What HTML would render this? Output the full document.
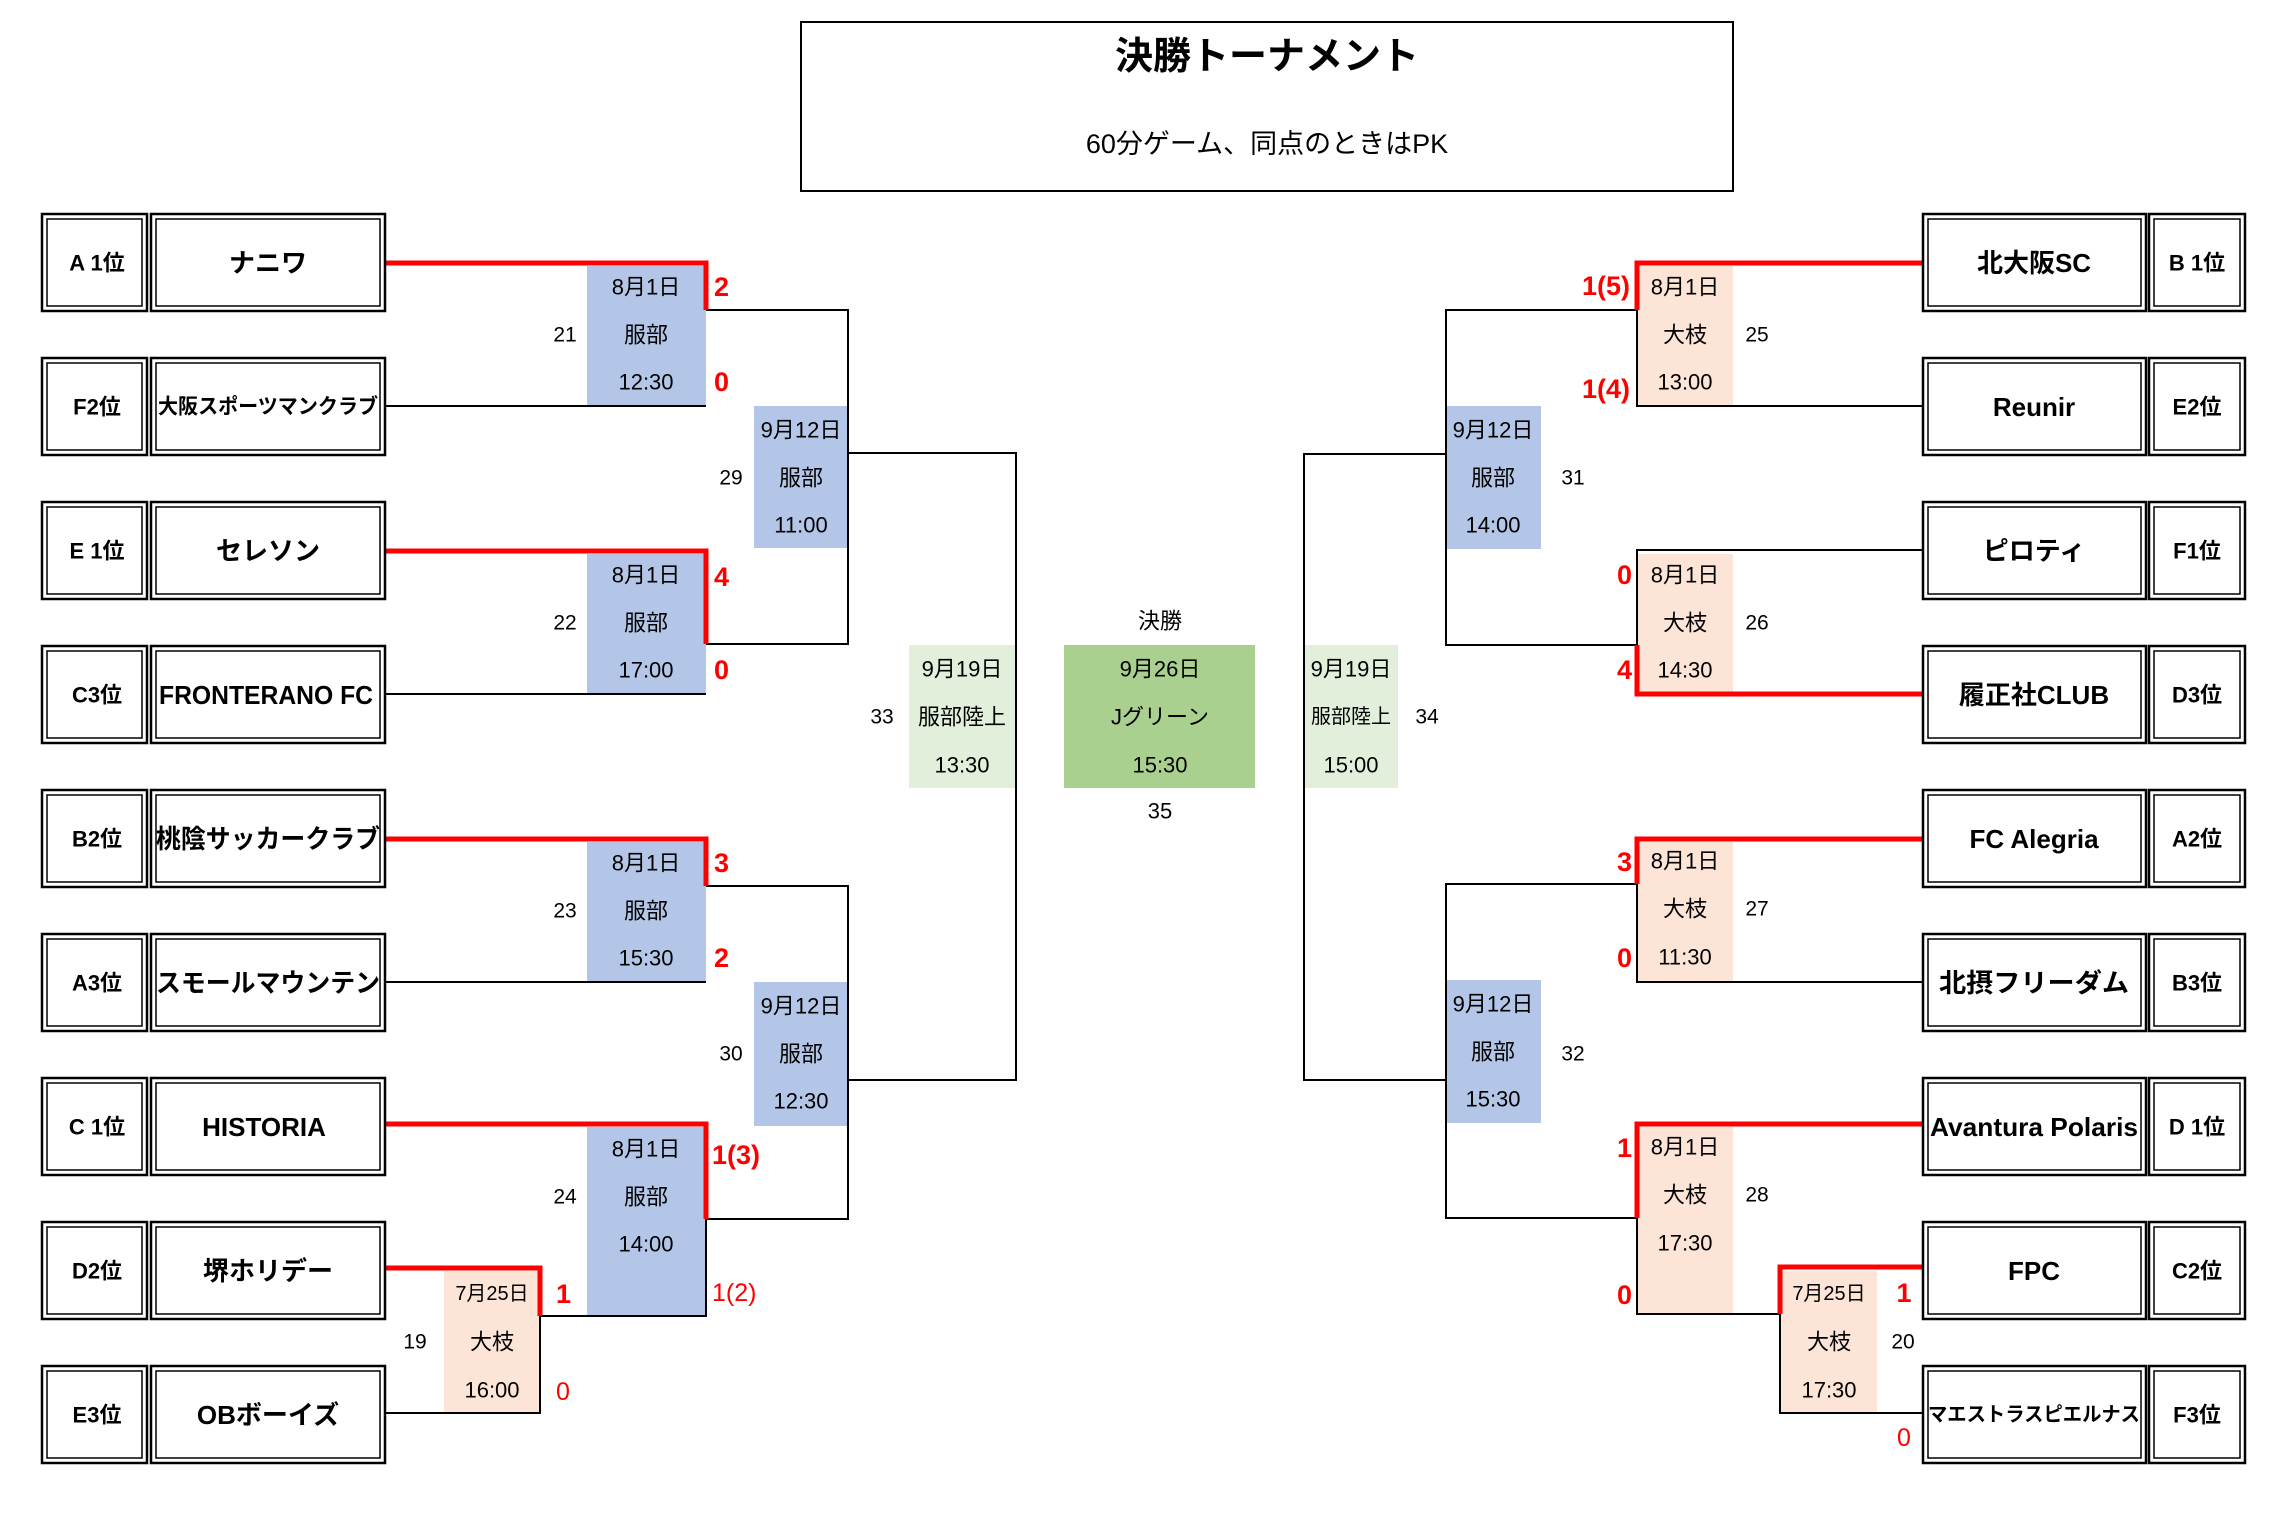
<!DOCTYPE html>
<html><head><meta charset="utf-8"><style>
html,body{margin:0;padding:0;background:#fff;}
svg{display:block;}
text{font-family:"Liberation Sans","Noto Sans CJK JP",sans-serif;}
.d{font-size:22px;fill:#000;}
.n{font-size:21px;fill:#000;}
.t{font-size:26px;font-weight:bold;fill:#000;}
.l{font-size:22px;font-weight:bold;fill:#000;}
.s{font-size:27px;font-weight:bold;fill:#f00;}
.sn{font-size:25px;fill:#f00;}
</style></head><body>
<svg width="2287" height="1525" viewBox="0 0 2287 1525" xmlns="http://www.w3.org/2000/svg" dominant-baseline="central">
<rect width="2287" height="1525" fill="#fff"/>
<rect x="801" y="22" width="932" height="169" fill="none" stroke="#000" stroke-width="2"/>
<text x="1267" y="57" text-anchor="middle" style="font-size:38px;font-weight:bold">決勝トーナメント</text>
<text x="1267" y="144" text-anchor="middle" style="font-size:27px">60分ゲーム、同点のときはPK</text>

<g>
<rect x="587" y="266" width="119" height="140" fill="#b4c6e7"/>
<rect x="587" y="554" width="119" height="140" fill="#b4c6e7"/>
<rect x="587" y="842" width="119" height="140" fill="#b4c6e7"/>
<rect x="587" y="1127" width="119" height="189" fill="#b4c6e7"/>
<rect x="444" y="1271" width="96" height="142" fill="#fce4d6"/>
<rect x="754" y="406" width="94" height="142" fill="#b4c6e7"/>
<rect x="754" y="982" width="94" height="144" fill="#b4c6e7"/>
<rect x="909" y="645" width="107" height="143" fill="#e2efda"/>
<rect x="1064" y="645" width="191" height="143" fill="#a9d08e"/>
<rect x="1304" y="645" width="94" height="143" fill="#e2efda"/>
<rect x="1446" y="406" width="95" height="143" fill="#b4c6e7"/>
<rect x="1446" y="980" width="95" height="143" fill="#b4c6e7"/>
<rect x="1637" y="266" width="96" height="140" fill="#fce4d6"/>
<rect x="1637" y="554" width="96" height="140" fill="#fce4d6"/>
<rect x="1637" y="842" width="96" height="140" fill="#fce4d6"/>
<rect x="1637" y="1127" width="96" height="187" fill="#fce4d6"/>
<rect x="1780" y="1271" width="97" height="142" fill="#fce4d6"/>
</g>

<g stroke="#000" stroke-width="2" fill="none">
<polyline points="386,406 706,406"/>
<polyline points="706,310 848,310 848,644 706,644"/>
<polyline points="386,694 706,694"/>
<polyline points="848,453 1016,453 1016,1080 848,1080"/>
<polyline points="386,982 706,982"/>
<polyline points="706,886 848,886 848,1219 706,1219"/>
<polyline points="540,1316 706,1316 706,1219"/>
<polyline points="386,1413 540,1413 540,1316"/>
<polyline points="1922,406 1637,406 1637,310"/>
<polyline points="1637,310 1446,310 1446,645 1637,645"/>
<polyline points="1922,550 1637,550 1637,645"/>
<polyline points="1446,454 1304,454 1304,1080 1446,1080"/>
<polyline points="1922,982 1637,982 1637,884"/>
<polyline points="1637,884 1446,884 1446,1218 1637,1218"/>
<polyline points="1637,1218 1637,1314 1780,1314"/>
<polyline points="1922,1413 1780,1413 1780,1314"/>
</g>
<g stroke="#f00" stroke-width="5" fill="none">
<polyline points="386,263 706,263 706,310"/>
<polyline points="386,551 706,551 706,644"/>
<polyline points="386,839 706,839 706,886"/>
<polyline points="386,1124 706,1124 706,1219"/>
<polyline points="386,1268 540,1268 540,1316"/>
<polyline points="1922,263 1637,263 1637,310"/>
<polyline points="1637,645 1637,694 1922,694"/>
<polyline points="1922,839 1637,839 1637,884"/>
<polyline points="1922,1124 1637,1124 1637,1218"/>
<polyline points="1922,1267 1780,1267 1780,1314"/>
</g>

<g fill="none" stroke="#000">
<g id="tb">
<rect x="42" y="214" width="105" height="97" stroke-width="2.5"/><rect x="47" y="219" width="95" height="87" stroke-width="1.5"/>
<rect x="151" y="214" width="234" height="97" stroke-width="2.5"/><rect x="156" y="219" width="224" height="87" stroke-width="1.5"/>
</g>
<use href="#tb" y="144"/><use href="#tb" y="288"/><use href="#tb" y="432"/><use href="#tb" y="576"/>
<use href="#tb" y="720"/><use href="#tb" y="864"/><use href="#tb" y="1008"/><use href="#tb" y="1152"/>
<g id="tr">
<rect x="1923" y="214" width="223" height="97" stroke-width="2.5"/><rect x="1928" y="219" width="213" height="87" stroke-width="1.5"/>
<rect x="2149" y="214" width="96" height="97" stroke-width="2.5"/><rect x="2154" y="219" width="86" height="87" stroke-width="1.5"/>
</g>
<use href="#tr" y="144"/><use href="#tr" y="288"/><use href="#tr" y="432"/><use href="#tr" y="576"/>
<use href="#tr" y="720"/><use href="#tr" y="864"/><use href="#tr" y="1008"/><use href="#tr" y="1152"/>
</g>

<g text-anchor="middle">
<text class="l" x="97" y="263">A 1位</text><text class="t" x="268" y="263">ナニワ</text>
<text class="l" x="97" y="407">F2位</text><text class="t" x="268" y="407" style="font-size:21px" textLength="220" lengthAdjust="spacingAndGlyphs">大阪スポーツマンクラブ</text>
<text class="l" x="97" y="551">E 1位</text><text class="t" x="268" y="551">セレソン</text>
<text class="l" x="97" y="695">C3位</text><text class="t" x="266" y="695" textLength="214" lengthAdjust="spacingAndGlyphs">FRONTERANO FC</text>
<text class="l" x="97" y="839">B2位</text><text class="t" x="268" y="839" textLength="224" lengthAdjust="spacingAndGlyphs">桃陰サッカークラブ</text>
<text class="l" x="97" y="983">A3位</text><text class="t" x="268" y="983" textLength="224" lengthAdjust="spacingAndGlyphs">スモールマウンテン</text>
<text class="l" x="97" y="1127">C 1位</text><text class="t" x="264" y="1127">HISTORIA</text>
<text class="l" x="97" y="1271">D2位</text><text class="t" x="268" y="1271">堺ホリデー</text>
<text class="l" x="97" y="1415">E3位</text><text class="t" x="268" y="1415">OBボーイズ</text>
<text class="t" x="2034" y="263">北大阪SC</text><text class="l" x="2197" y="263">B 1位</text>
<text class="t" x="2034" y="407">Reunir</text><text class="l" x="2197" y="407">E2位</text>
<text class="t" x="2034" y="551">ピロティ</text><text class="l" x="2197" y="551">F1位</text>
<text class="t" x="2034" y="695">履正社CLUB</text><text class="l" x="2197" y="695">D3位</text>
<text class="t" x="2034" y="839">FC Alegria</text><text class="l" x="2197" y="839">A2位</text>
<text class="t" x="2034" y="983" textLength="190" lengthAdjust="spacingAndGlyphs">北摂フリーダム</text><text class="l" x="2197" y="983">B3位</text>
<text class="t" x="2034" y="1127" textLength="208" lengthAdjust="spacingAndGlyphs">Avantura Polaris</text><text class="l" x="2197" y="1127">D 1位</text>
<text class="t" x="2034" y="1271">FPC</text><text class="l" x="2197" y="1271">C2位</text>
<text class="t" x="2034" y="1415" style="font-size:20px" textLength="212" lengthAdjust="spacingAndGlyphs">マエストラスピエルナス</text><text class="l" x="2197" y="1415">F3位</text>

<g class="d">
<text x="646" y="287">8月1日</text><text x="646" y="335">服部</text><text x="646" y="382">12:30</text>
<text x="646" y="575">8月1日</text><text x="646" y="623">服部</text><text x="646" y="670">17:00</text>
<text x="646" y="863">8月1日</text><text x="646" y="911">服部</text><text x="646" y="958">15:30</text>
<text x="646" y="1149">8月1日</text><text x="646" y="1197">服部</text><text x="646" y="1244">14:00</text>
<text x="492" y="1294" style="font-size:20px">7月25日</text><text x="492" y="1342">大枝</text><text x="492" y="1390">16:00</text>
<text x="801" y="430">9月12日</text><text x="801" y="478">服部</text><text x="801" y="525">11:00</text>
<text x="801" y="1006">9月12日</text><text x="801" y="1054">服部</text><text x="801" y="1101">12:30</text>
<text x="962" y="669">9月19日</text><text x="962" y="717">服部陸上</text><text x="962" y="765">13:30</text>
<text x="1160" y="621">決勝</text>
<text x="1160" y="669">9月26日</text><text x="1160" y="717">Jグリーン</text><text x="1160" y="765">15:30</text>
<text x="1160" y="811">35</text>
<text x="1351" y="669">9月19日</text><text x="1351" y="717" style="font-size:20px">服部陸上</text><text x="1351" y="765">15:00</text>
<text x="1493" y="430">9月12日</text><text x="1493" y="478">服部</text><text x="1493" y="525">14:00</text>
<text x="1493" y="1004">9月12日</text><text x="1493" y="1052">服部</text><text x="1493" y="1099">15:30</text>
<text x="1685" y="287">8月1日</text><text x="1685" y="335">大枝</text><text x="1685" y="382">13:00</text>
<text x="1685" y="575">8月1日</text><text x="1685" y="623">大枝</text><text x="1685" y="670">14:30</text>
<text x="1685" y="861">8月1日</text><text x="1685" y="909">大枝</text><text x="1685" y="957">11:30</text>
<text x="1685" y="1147">8月1日</text><text x="1685" y="1195">大枝</text><text x="1685" y="1243">17:30</text>
<text x="1829" y="1294" style="font-size:20px">7月25日</text><text x="1829" y="1342">大枝</text><text x="1829" y="1390">17:30</text>
</g>
</g>

<g class="n" text-anchor="middle">
<text x="565" y="335">21</text><text x="565" y="623">22</text><text x="565" y="911">23</text><text x="565" y="1197">24</text>
<text x="415" y="1342">19</text>
<text x="731" y="478">29</text><text x="731" y="1054">30</text>
<text x="882" y="717">33</text><text x="1427" y="717">34</text>
<text x="1573" y="478">31</text><text x="1573" y="1054">32</text>
<text x="1757" y="335">25</text><text x="1757" y="623">26</text><text x="1757" y="909">27</text><text x="1757" y="1195">28</text>
<text x="1903" y="1342">20</text>
</g>

<g class="s">
<text x="714" y="287">2</text><text x="714" y="382">0</text>
<text x="714" y="577">4</text><text x="714" y="670">0</text>
<text x="714" y="863">3</text><text x="714" y="958">2</text>
<text x="712" y="1155">1(3)</text>
<text x="556" y="1294">1</text>
</g>
<text class="sn" x="712" y="1293">1(2)</text>
<text class="sn" x="556" y="1392">0</text>
<g class="s" text-anchor="end">
<text x="1630" y="286">1(5)</text><text x="1630" y="389">1(4)</text>
<text x="1632" y="575">0</text><text x="1632" y="670">4</text>
<text x="1632" y="862">3</text><text x="1632" y="958">0</text>
<text x="1632" y="1148">1</text><text x="1632" y="1295">0</text>
</g>
<text class="s" x="1904" y="1293" text-anchor="middle">1</text>
<text class="sn" x="1904" y="1438" text-anchor="middle">0</text>
</svg>
</body></html>
